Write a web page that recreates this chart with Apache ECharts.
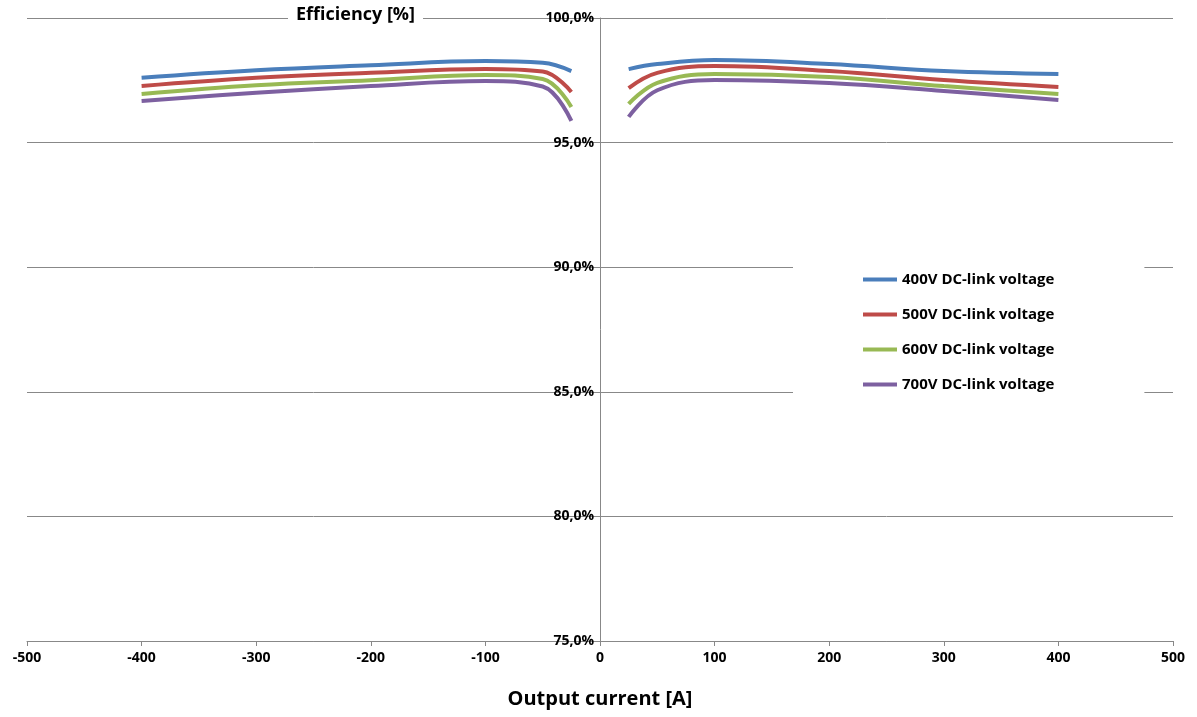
<!DOCTYPE html>
<html lang="en">
<head>
<meta charset="UTF-8">
<title>Efficiency</title>
<script src="https://cdn.jsdelivr.net/npm/echarts@6/dist/echarts.min.js"></script>
<style>
  html, body { margin: 0; background: #fff; }
  #main { width: 1197px; height: 717px; }
</style>
</head>
<body>
<div id="main"></div>
<script>
var current = [-400, -300, -200, -100, -50, -25, 0, 25, 50, 100, 200, 300, 400];
// null at 0 splits the two branches
var v400 = [97.6, 97.9, 98.1, 98.27, 98.2, 97.87, null, 97.95, 98.15, 98.31, 98.15, 97.87, 97.75];
var v500 = [97.27, 97.6, 97.8, 97.95, 97.85, 97.03, null, 97.19, 97.8, 98.07, 97.87, 97.51, 97.23];
var v600 = [96.95, 97.3, 97.5, 97.71, 97.55, 96.43, null, 96.55, 97.4, 97.75, 97.63, 97.27, 96.95];
var v700 = [96.67, 97.0, 97.27, 97.47, 97.25, 95.87, null, 96.03, 97.1, 97.51, 97.39, 97.07, 96.71];
var names = ['400V DC-link voltage', '500V DC-link voltage', '600V DC-link voltage', '700V DC-link voltage'];
var colors = ['#4a7ebb', '#be4b48', '#98b954', '#7d60a0'];

function pairs(vals) {
    return current.map(function (c, i) { return [c, vals[i]]; });
}

var chart = echarts.init(document.getElementById('main'));
var font = 'Open Sans';
chart.setOption({
    animation: false,
    color: colors,
    title: {
        text: 'Efficiency [%]', left: 288, top: 4,
        backgroundColor: '#fff', padding: [2, 8],
        textStyle: { fontFamily: font, fontSize: 18, fontWeight: 'bold', color: '#000' }
    },
    legend: {
        orient: 'vertical', left: 793, top: 262,
        backgroundColor: '#fff', padding: [10, 90, 10, 70],
        itemWidth: 34, itemHeight: 4, itemGap: 20,
        icon: 'rect',
        textStyle: { fontFamily: font, fontSize: 15, fontWeight: 'bold', color: '#000' },
        data: names
    },
    grid: { left: 27, right: 24, top: 18, bottom: 76, outerBoundsMode: 'none', containLabel: false },
    xAxis: {
        type: 'value', min: -500, max: 500, interval: 100,
        name: 'Output current [A]', nameLocation: 'middle', nameGap: 48,
        nameTextStyle: { fontFamily: font, fontSize: 20, fontWeight: 'bold', color: '#000' },
        axisLine: { onZero: false, lineStyle: { color: '#888' } },
        axisTick: { show: true, length: 5, lineStyle: { color: '#888' } },
        axisLabel: { fontFamily: font, fontSize: 14, fontWeight: 'bold', color: '#000', margin: 10 },
        splitLine: { show: false }
    },
    yAxis: {
        type: 'value', min: 75, max: 100, interval: 5,
        offset: -573,
        axisLine: { show: true, onZero: false, lineStyle: { color: '#888' } },
        axisTick: { show: false },
        axisLabel: {
            fontFamily: font, fontSize: 14, fontWeight: 'bold', color: '#000', margin: 6,
            formatter: function (v) { return v.toFixed(1).replace('.', ',') + '%'; }
        },
        splitLine: { lineStyle: { color: '#888' } }
    },
    series: [v400, v500, v600, v700].map(function (vals, i) {
        return {
            name: names[i], type: 'line', smooth: 0.4, showSymbol: false,
            connectNulls: false, lineStyle: { width: 4 },
            data: pairs(vals)
        };
    })
});
</script>
</body>
</html>
